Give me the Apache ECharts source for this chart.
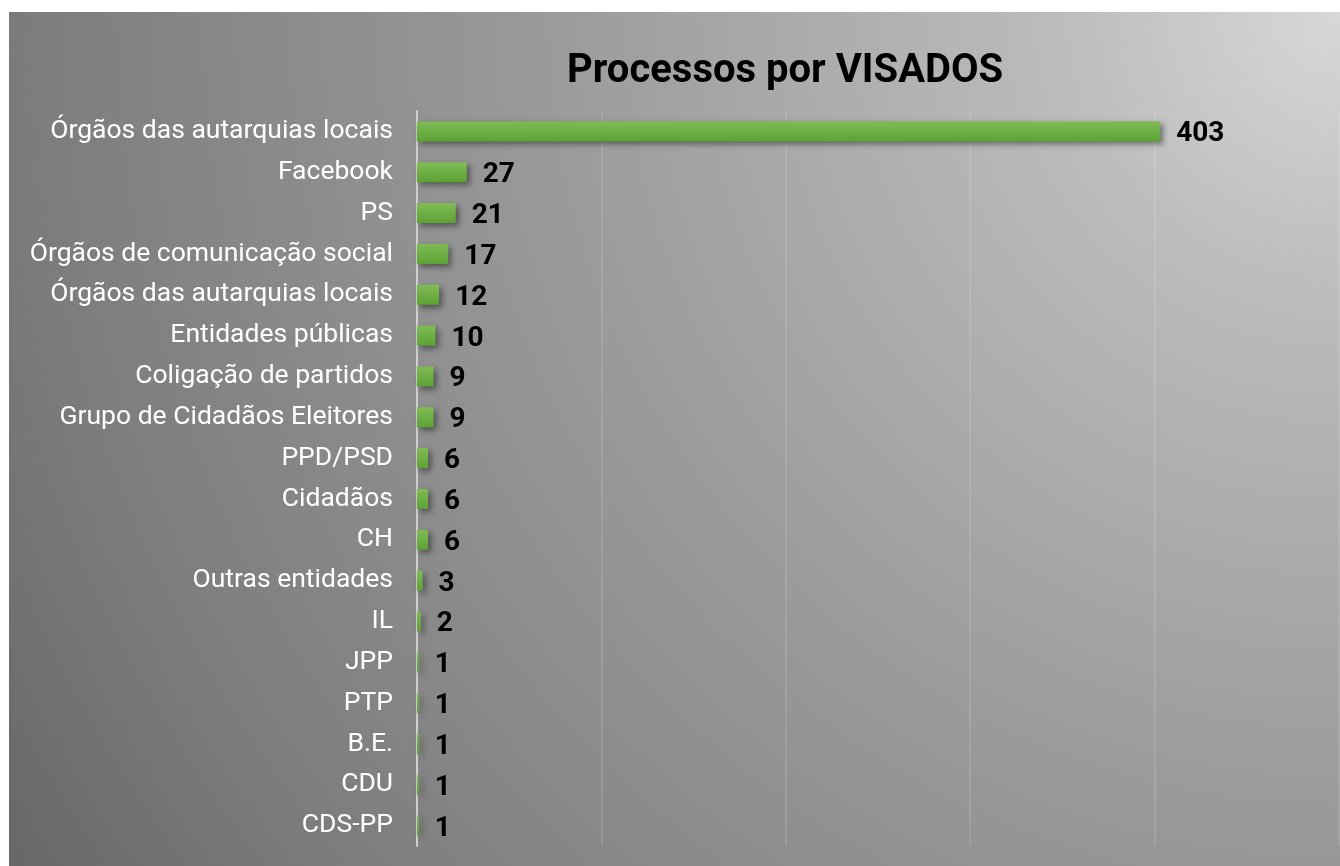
<!DOCTYPE html>
<html>
<head>
<meta charset="utf-8">
<script src="https://cdn.jsdelivr.net/npm/echarts@6/dist/echarts.min.js"></script>
<style>
html,body{margin:0;padding:0;background:#fff;}
#main{position:absolute;left:9px;top:12px;width:1331px;height:854px;}
</style>
</head>
<body>
<div id="main"></div>
<script>
// dados do gráfico
var categorias = ['Órgãos das autarquias locais', 'Facebook', 'PS', 'Órgãos de comunicação social',
	'Órgãos das autarquias locais', 'Entidades públicas', 'Coligação de partidos',
	'Grupo de Cidadãos Eleitores', 'PPD/PSD', 'Cidadãos', 'CH', 'Outras entidades',
	'IL', 'JPP', 'PTP', 'B.E.', 'CDU', 'CDS-PP'];
var valores = [403, 27, 21, 17, 12, 10, 9, 9, 6, 6, 6, 3, 2, 1, 1, 1, 1, 1];
var titulo = 'Processos por VISADOS';

var chart = echarts.init(document.getElementById('main'));

var option = {
	backgroundColor: {
		type: 'radial', x: 1331, y: 0, r: 1570, global: true,
		colorStops: [
			{offset: 0, color: '#d8d8d8'},
			{offset: 0.18, color: '#bcbcbc'},
			{offset: 0.51, color: '#9a9a9a'},
			{offset: 0.83, color: '#7d7d7d'},
			{offset: 1, color: '#686868'}
		]
	},
	animation: false,
	title: {
		text: titulo,
		left: 558, top: 40, padding: 0,
		textStyle: {fontFamily: 'Roboto', fontSize: 40, fontWeight: 'bold', color: '#000'}
	},
	grid: {left: 408, right: 1, top: 99, bottom: 20, containLabel: false},
	xAxis: {
		type: 'value', min: 0, max: 500, interval: 100,
		axisLabel: {show: false},
		axisLine: {show: false},
		axisTick: {show: false},
		splitLine: {lineStyle: {color: 'rgba(255,255,255,0.15)', width: 1.5}}
	},
	yAxis: {
		type: 'category', inverse: true, data: categorias,
		axisTick: {show: false},
		axisLine: {lineStyle: {color: '#cfcfcf', width: 2}},
		axisLabel: {color: '#fff', fontFamily: 'Roboto', fontSize: 26.5, margin: 24}
	},
	series: [{
		type: 'bar',
		data: valores,
		barWidth: 20,
		itemStyle: {
			color: new echarts.graphic.LinearGradient(0, 0, 0, 1, [
				{offset: 0, color: '#80bb55'},
				{offset: 1, color: '#5da235'}
			]),
			shadowColor: 'rgba(0,0,0,0.45)',
			shadowBlur: 6,
			shadowOffsetX: 3,
			shadowOffsetY: 3
		},
		label: {
			show: true, position: 'right', distance: 16, offset: [0, 3],
			color: '#000', fontFamily: 'Roboto', fontSize: 28, fontWeight: 'bold'
		}
	}]
};
chart.setOption(option);
</script>
</body>
</html>
